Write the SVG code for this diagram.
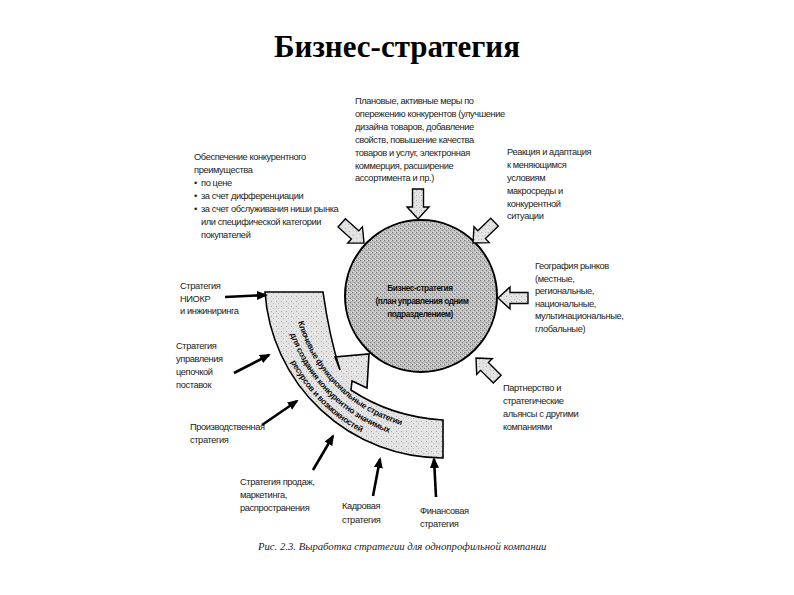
<svg xmlns="http://www.w3.org/2000/svg" xmlns:xlink="http://www.w3.org/1999/xlink" width="794" height="595" viewBox="0 0 794 595">
<style>
.t{font-family:"Liberation Sans",Arial,sans-serif;font-size:9.3px;letter-spacing:-0.4px;fill:#222}
.c{font-family:"Liberation Sans",Arial,sans-serif;font-size:8.3px;letter-spacing:-0.45px;fill:#111;font-weight:bold;text-anchor:middle}
.b{font-family:"Liberation Sans",Arial,sans-serif;font-size:8.3px;letter-spacing:-0.3px;fill:#111;font-weight:bold;text-anchor:middle}
.blk{fill:url(#lite);stroke:#000;stroke-width:1.4;stroke-linejoin:miter}
.arr{stroke:#000;stroke-width:2.6;fill:none;marker-end:url(#ah)}
</style>
<defs>
<pattern id="lite" width="5" height="5" patternUnits="userSpaceOnUse">
<rect width="5" height="5" fill="#e4e4e4"/>
<rect x="1" y="1" width="1" height="1" fill="#a8a8a8"/>
<rect x="3" y="3" width="1" height="1" fill="#bdbdbd"/>
</pattern>
<pattern id="dark" width="4" height="4" patternUnits="userSpaceOnUse">
<rect width="4" height="4" fill="#bdbdbd"/>
<rect x="0" y="0" width="1" height="1" fill="#777"/>
<rect x="2" y="2" width="1" height="1" fill="#8a8a8a"/>
<rect x="3" y="0" width="1" height="1" fill="#e0e0e0"/>
<rect x="1" y="3" width="1" height="1" fill="#dcdcdc"/>
</pattern>
<marker id="ah" markerWidth="11" markerHeight="9" refX="9" refY="4.5" orient="auto" markerUnits="userSpaceOnUse">
<path d="M0,0 L11,4.5 L0,9 Z" fill="#000"/>
</marker>
<path id="blkarrow" d="M-30,-5.5 L-12,-5.5 L-12,-11 L0,0 L-12,11 L-12,5.5 L-30,5.5 Z"/>
<path id="p1" d="M292.6,293.2 A151 151 0 0 0 429.8,430.4"/>
<path id="p2" d="M281.6,294.1 A162 162 0 0 0 428.9,441.4"/>
<path id="p3" d="M270.7,295.1 A173 173 0 0 0 427.9,452.3"/>
</defs>
<rect width="794" height="595" fill="#fff"/>
<text x="397" y="57" text-anchor="middle" font-family="Liberation Serif,serif" font-weight="bold" font-size="31" fill="#000">Бизнес-стратегия</text>

<g id="core">
<circle cx="421" cy="296" r="76" fill="url(#dark)" stroke="#000" stroke-width="2"/>
<text class="c" x="420" y="291">Бизнес-стратегия</text>
<text class="c" x="422" y="304">(план управления одним</text>
<text class="c" x="420" y="317">подразделением)</text>
</g>

<g id="band">
<path d="M265,292 L323,292 C327,320 333,348 340,370 L335,357 L369,354 L367,388 L352,381 L351,390 C378,408 410,418 443,420 L443,458 A178 178 0 0 1 265,292 Z" fill="url(#lite)" stroke="#000" stroke-width="1.6" stroke-linejoin="miter"/>
<text class="b"><textPath xlink:href="#p1" href="#p1" startOffset="50%">Ключевые функциональные стратегии</textPath></text>
<text class="b"><textPath xlink:href="#p2" href="#p2" startOffset="50%">для создания конкурентно значимых</textPath></text>
<text class="b"><textPath xlink:href="#p3" href="#p3" startOffset="50%">ресурсов и возможностей</textPath></text>
</g>

<g id="connectors">
<use href="#blkarrow" class="blk" transform="translate(418,219) rotate(90)"/>
<use href="#blkarrow" class="blk" transform="translate(364,243) rotate(42)"/>
<use href="#blkarrow" class="blk" transform="translate(473,243) rotate(136)"/>
<use href="#blkarrow" class="blk" transform="translate(498,298) rotate(180)"/>
<use href="#blkarrow" class="blk" transform="translate(476,358) rotate(225)"/>
<line class="arr" x1="225" y1="297" x2="266" y2="295"/>
<line class="arr" x1="234" y1="373" x2="269" y2="355"/>
<line class="arr" x1="262" y1="425" x2="297" y2="401"/>
<line class="arr" x1="313" y1="470" x2="333" y2="436"/>
<line class="arr" x1="373" y1="496" x2="380" y2="459"/>
<line class="arr" x1="436" y1="497" x2="434" y2="459"/>
</g>

<g id="n-top">
<text class="t" x="355" y="104">Плановые, активные меры по</text>
<text class="t" x="355" y="117">опережению конкурентов (улучшение</text>
<text class="t" x="355" y="130">дизайна товаров, добавление</text>
<text class="t" x="355" y="143">свойств, повышение качества</text>
<text class="t" x="355" y="156">товаров и услуг, электронная</text>
<text class="t" x="355" y="169">коммерция, расширение</text>
<text class="t" x="355" y="181">ассортимента и пр.)</text>
</g>

<g id="n-advantage">
<text class="t" x="194" y="160">Обеспечение конкурентного</text>
<text class="t" x="194" y="173">преимущества</text>
<text class="t" x="194" y="186">•</text><text class="t" x="201" y="186">по цене</text>
<text class="t" x="194" y="199">•</text><text class="t" x="201" y="199">за счет дифференциации</text>
<text class="t" x="194" y="212">•</text><text class="t" x="201" y="212">за счет обслуживания ниши рынка</text>
<text class="t" x="201" y="225">или специфической категории</text>
<text class="t" x="201" y="238">покупателей</text>
</g>

<g id="n-reaction">
<text class="t" x="507" y="155">Реакция и адаптация</text>
<text class="t" x="507" y="168">к меняющимся</text>
<text class="t" x="507" y="181">условиям</text>
<text class="t" x="507" y="194">макросреды и</text>
<text class="t" x="507" y="207">конкурентной</text>
<text class="t" x="507" y="219">ситуации</text>
</g>

<g id="n-geo">
<text class="t" x="535" y="269">География рынков</text>
<text class="t" x="535" y="282">(местные,</text>
<text class="t" x="535" y="294">региональные,</text>
<text class="t" x="535" y="307">национальные,</text>
<text class="t" x="535" y="319">мультинациональные,</text>
<text class="t" x="535" y="332">глобальные)</text>
</g>

<g id="n-partner">
<text class="t" x="503" y="391">Партнерство и</text>
<text class="t" x="503" y="404">стратегические</text>
<text class="t" x="503" y="417">альянсы с другими</text>
<text class="t" x="503" y="430">компаниями</text>
</g>

<g id="n-rnd">
<text class="t" x="180" y="289">Стратегия</text>
<text class="t" x="180" y="302">НИОКР</text>
<text class="t" x="180" y="314">и инжиниринга</text>
</g>

<g id="n-supply">
<text class="t" x="176" y="349">Стратегия</text>
<text class="t" x="176" y="362">управления</text>
<text class="t" x="176" y="375">цепочкой</text>
<text class="t" x="176" y="388">поставок</text>
</g>

<g id="n-prod">
<text class="t" x="190" y="430">Производственная</text>
<text class="t" x="190" y="443">стратегия</text>
</g>

<g id="n-sales">
<text class="t" x="240" y="485">Стратегия продаж,</text>
<text class="t" x="240" y="498">маркетинга,</text>
<text class="t" x="240" y="511">распространения</text>
</g>

<g id="n-hr">
<text class="t" x="342" y="509">Кадровая</text>
<text class="t" x="342" y="523">стратегия</text>
</g>

<g id="n-fin">
<text class="t" x="420" y="514">Финансовая</text>
<text class="t" x="420" y="527">стратегия</text>
</g>

<text x="258" y="550" font-family="Liberation Serif,serif" font-style="italic" font-size="10.7" fill="#222">Рис. 2.3. Выработка стратегии для однопрофильной компании</text>
</svg>
